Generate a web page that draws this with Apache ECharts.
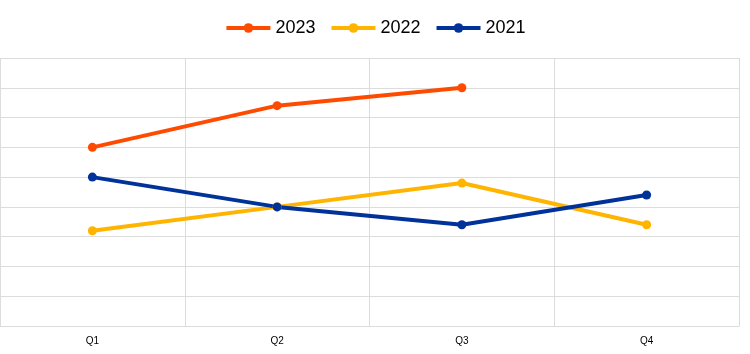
<!DOCTYPE html>
<html>
<head>
<meta charset="utf-8">
<script src="https://cdn.jsdelivr.net/npm/echarts@6/dist/echarts.min.js"></script>
<style>
html,body{margin:0;padding:0;background:#fff;}
#chart{width:750px;height:354px;}
</style>
</head>
<body>
<div id="chart"></div>
<script>
// quarters on the x axis
var quarters = ['Q1', 'Q2', 'Q3', 'Q4'];
// values (no y labels shown, units = grid steps)
var data2023 = [6.0, 7.4, 8.0, null];
var data2022 = [3.2, 4.0, 4.8, 3.4];
var data2021 = [5.0, 4.0, 3.4, 4.4];
var seriesNames = ['2023', '2022', '2021'];
var seriesColors = ['#FF4B00', '#FFB400', '#003299'];

var gridColor = '#dcdcdc';

function makeLine(name, values, color) {
	return {
		name: name,
		type: 'line',
		data: values,
		symbol: 'circle',
		symbolSize: 9,
		lineStyle: { width: 4, color: color },
		itemStyle: { color: color },
		emphasis: { disabled: true }
	};
}

var option = {
	animation: false,
	textStyle: { fontFamily: 'Liberation Sans' },
	legend: {
		data: seriesNames,
		left: 'center',
		top: 14,
		itemWidth: 44,
		itemHeight: 12,
		itemGap: 14,
		lineStyle: { width: 4 },
		textStyle: { fontSize: 18, color: '#000', fontFamily: 'Liberation Sans' }
	},
	grid: {
		left: 0,
		right: 11,
		top: 58,
		bottom: 28,
		containLabel: false
	},
	xAxis: {
		type: 'category',
		data: quarters,
		boundaryGap: true,
		axisLine: { show: true, lineStyle: { color: gridColor, width: 1 } },
		axisTick: { show: false },
		axisLabel: { color: '#000', fontSize: 10, margin: 10, fontFamily: 'Liberation Sans' },
		splitLine: { show: true, lineStyle: { color: gridColor, width: 1 } }
	},
	yAxis: {
		type: 'value',
		min: 0,
		max: 9,
		interval: 1,
		axisLine: { show: false },
		axisTick: { show: false },
		axisLabel: { show: false },
		splitLine: { show: true, lineStyle: { color: gridColor, width: 1 } }
	},
	series: [
		makeLine(seriesNames[0], data2023, seriesColors[0]),
		makeLine(seriesNames[1], data2022, seriesColors[1]),
		makeLine(seriesNames[2], data2021, seriesColors[2])
	]
};

var chart = echarts.init(document.getElementById('chart'));
chart.setOption(option);
</script>
</body>
</html>
